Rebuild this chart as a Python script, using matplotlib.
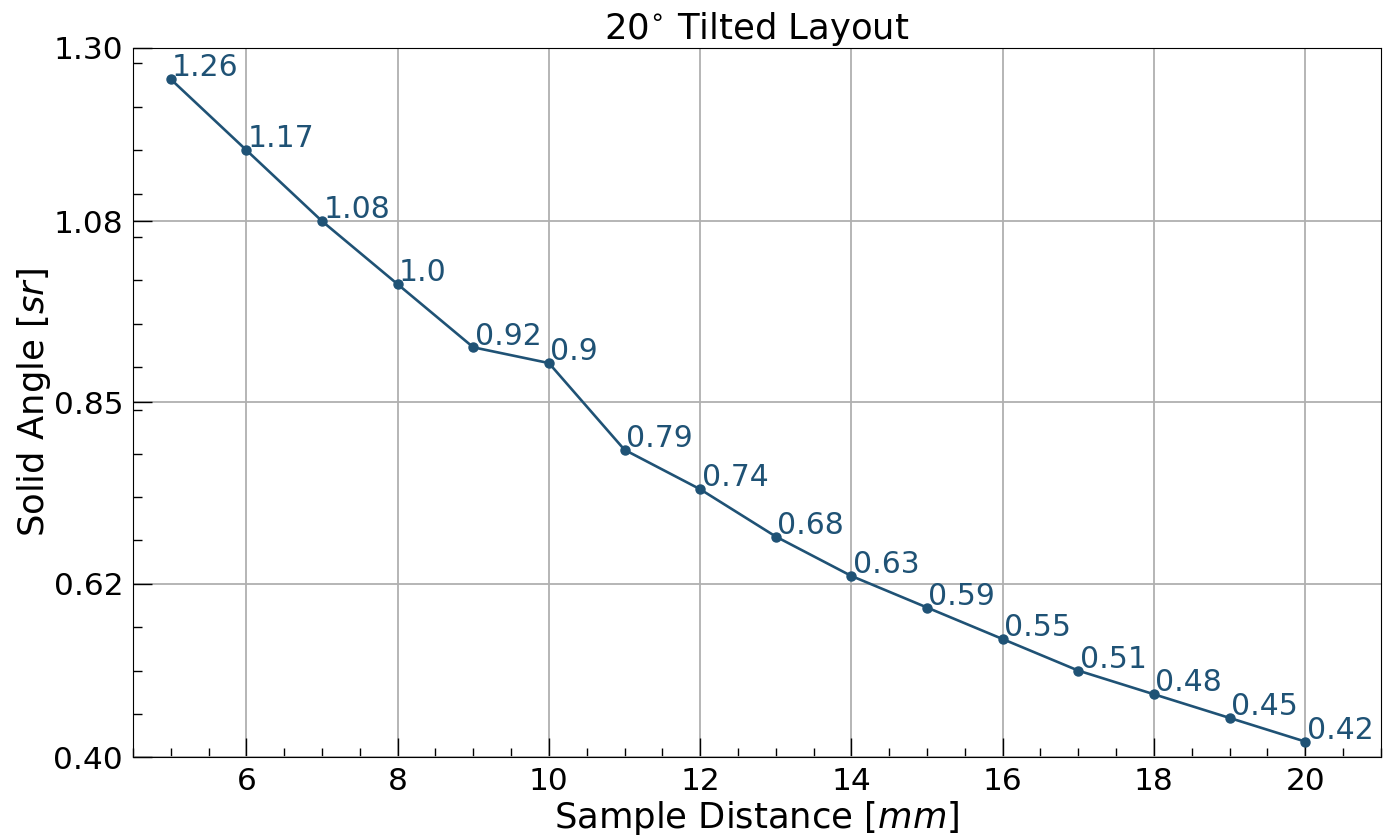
import matplotlib
matplotlib.use("Agg")
import matplotlib.pyplot as plt
from matplotlib.ticker import AutoMinorLocator

# sample distance (mm) and solid angle (sr)
distance = [5, 6, 7, 8, 9, 10, 11, 12, 13, 14, 15, 16, 17, 18, 19, 20]
solid_angle = [1.26, 1.17, 1.08, 1.0, 0.92, 0.9, 0.79, 0.74, 0.68, 0.63,
               0.59, 0.55, 0.51, 0.48, 0.45, 0.42]
y_ticks = [0.40, 0.62, 0.85, 1.08, 1.30]

color = "#1f5275"

fig = plt.figure(figsize=(13.95, 8.36), dpi=100)
ax = fig.add_axes([0.0953, 0.0941, 0.8945, 0.8489])

ax.plot(distance, solid_angle, color=color, lw=1.9, marker="o", ms=6.5, zorder=3)
for x, y in zip(distance, solid_angle):
    ax.annotate(str(y), (x, y), xytext=(1, 2), textcoords="offset points",
                ha="left", va="baseline", fontsize=21.5, color=color)

ax.set_xlim(4.5, 21)
ax.set_ylim(0.40, 1.30)
ax.set_yticks(y_ticks)
ax.set_yticklabels([f"{t:.2f}" for t in y_ticks])
ax.xaxis.set_minor_locator(AutoMinorLocator())
ax.yaxis.set_minor_locator(AutoMinorLocator())
ax.tick_params(which="both", direction="in", labelsize=22.5, pad=7)
ax.tick_params(which="major", length=13.5, width=1)
ax.tick_params(which="minor", length=6.5, width=1)
ax.grid(True, which="major", color="#b0b0b0", lw=1.3)
ax.set_axisbelow(True)

ax.set_xlabel("Sample Distance [$mm$]", fontsize=25.5, labelpad=2)
ax.set_ylabel("Solid Angle [$sr$]", fontsize=25.5, labelpad=0)
ax.set_title("20$^{\\circ}$ Tilted Layout", fontsize=25.5, pad=5)

fig.savefig("out.png", dpi=100)
